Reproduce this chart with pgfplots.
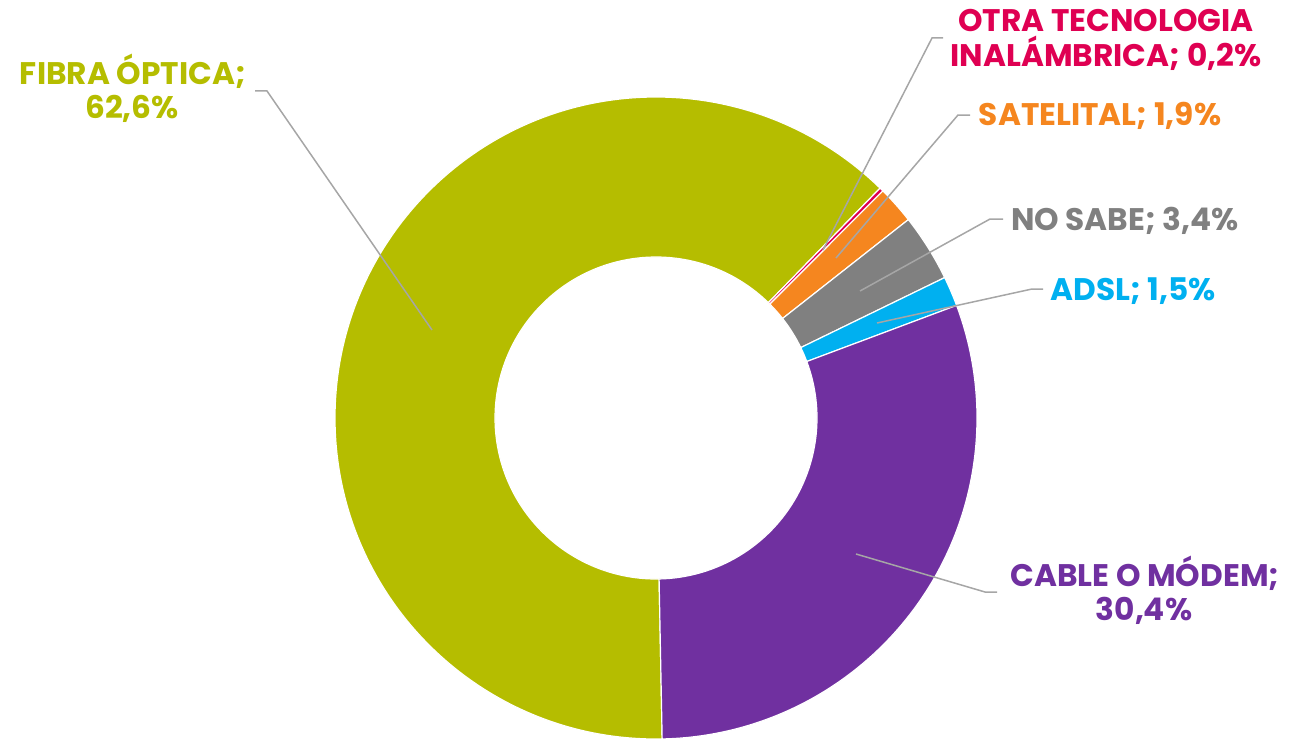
\documentclass[border=0pt]{standalone}
\usepackage{pgfplots}
\pgfplotsset{compat=1.18}
\usepackage{pgfplotstable}
\usepackage{fontspec}
\setmainfont{Poppins}
\newfontfamily\lblfont{Poppins Bold}
\definecolor{cFibra}{HTML}{B5BD00}
\definecolor{cOtra}{HTML}{DF0052}
\definecolor{cSat}{HTML}{F5861F}
\definecolor{cNo}{HTML}{808080}
\definecolor{cAdsl}{HTML}{00B0F0}
\definecolor{cCable}{HTML}{7030A0}
\definecolor{cLead}{HTML}{A6A6A6}
\pgfplotstableread{
label value
Fibra 62.6
Otra 0.2
Satelital 1.9
NoSabe 3.4
ADSL 1.5
Cable 30.4
}\datatable
\newcommand\slice[3]{% color, start, end
  \fill[#1,draw=white,line width=0.6pt] ([shift={(#2:160.5pt)}]C) arc[start angle=#2,end angle=#3,radius=160.5pt]
    -- ([shift={(#3:80.5pt)}]C) arc[start angle=#3,end angle=#2,radius=80.5pt] -- cycle;}
\tikzset{lbl/.style={font=\lblfont\fontsize{15.6}{18}\selectfont, inner sep=0pt, anchor=base}}
\begin{document}
\begin{tikzpicture}
\useasboundingbox (0,0) rectangle (646.5pt,369pt);
\clip (0,0) rectangle (646.5pt,369pt);
\pgfmathsetmacro\aA{-88.9}
\pgfplotstablegetelem{0}{value}\of\datatable \pgfmathsetmacro\aB{\aA-3.6*\pgfplotsretval}
\pgfplotstablegetelem{1}{value}\of\datatable \pgfmathsetmacro\aC{\aB-3.6*\pgfplotsretval}
\pgfplotstablegetelem{2}{value}\of\datatable \pgfmathsetmacro\aD{\aC-3.6*\pgfplotsretval}
\pgfplotstablegetelem{3}{value}\of\datatable \pgfmathsetmacro\aE{\aD-3.6*\pgfplotsretval}
\pgfplotstablegetelem{4}{value}\of\datatable \pgfmathsetmacro\aF{\aE-3.6*\pgfplotsretval}
\pgfplotstablegetelem{5}{value}\of\datatable \pgfmathsetmacro\aG{\aF-3.6*\pgfplotsretval}
\begin{axis}[
  x=0.5pt, y=0.5pt, xmin=0, xmax=1293, ymin=0, ymax=738, y dir=reverse,
  hide axis, clip=false, at={(0,0)}, anchor=south west,
]
\coordinate (C) at (axis cs:656,418);
\slice{cFibra}{\aA}{\aB}
\slice{cOtra}{\aB}{\aC}
\slice{cSat}{\aC}{\aD}
\slice{cNo}{\aD}{\aE}
\slice{cAdsl}{\aE}{\aF}
\slice{cCable}{\aF}{\aG}
% leader lines
\draw[cLead,line width=0.75pt] (axis cs:255,91) -- (axis cs:267,91) -- (axis cs:432,330);
\draw[cLead,line width=0.75pt] (axis cs:943,38) -- (axis cs:932,38) -- (axis cs:823,250);
\draw[cLead,line width=0.75pt] (axis cs:970,115) -- (axis cs:958,115) -- (axis cs:836,258);
\draw[cLead,line width=0.75pt] (axis cs:1003,219) -- (axis cs:990,219) -- (axis cs:860,291);
\draw[cLead,line width=0.75pt] (axis cs:1043,289) -- (axis cs:1032,289) -- (axis cs:877,323);
\draw[cLead,line width=0.75pt] (axis cs:856,554) -- (axis cs:985,592) -- (axis cs:997,592);
% labels
\node[lbl,text=cFibra] at (axis cs:133,84) {FIBRA ÓPTICA;};
\node[lbl,text=cFibra] at (axis cs:132,119) {62,6\%};
\node[lbl,text=cOtra] at (axis cs:1106,32) {OTRA TECNOLOGIA};
\node[lbl,text=cOtra] at (axis cs:1106,67) {INALÁMBRICA; 0,2\%};
\node[lbl,text=cSat] at (axis cs:1100,126) {SATELITAL; 1,9\%};
\node[lbl,text=cNo] at (axis cs:1125,230) {NO SABE; 3,4\%};
\node[lbl,text=cAdsl] at (axis cs:1133,300) {ADSL; 1,5\%};
\node[lbl,text=cCable] at (axis cs:1145,586) {CABLE O MÓDEM;};
\node[lbl,text=cCable] at (axis cs:1144,620) {30,4\%};
\end{axis}
\end{tikzpicture}
\end{document}
